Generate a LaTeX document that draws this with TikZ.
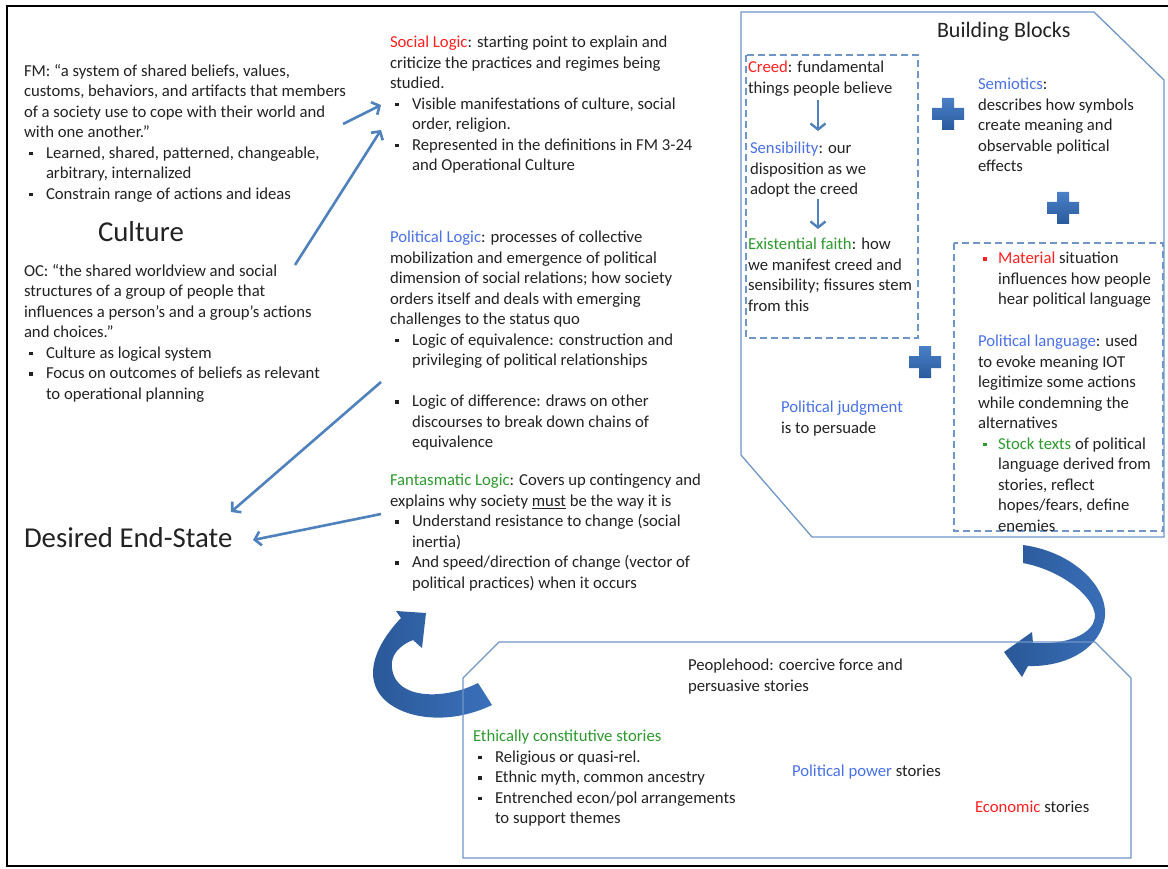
\documentclass[tikz,border=0pt]{standalone}
\usepackage{fontspec}
\setmainfont{Carlito}
\usetikzlibrary{arrows.meta}
\definecolor{txt}{HTML}{222222}
\definecolor{redl}{HTML}{FF2020}
\definecolor{bluel}{HTML}{4A72E6}
\definecolor{greenl}{HTML}{2E9A2E}
\definecolor{arrc}{HTML}{4F81BD}
\definecolor{boxc}{HTML}{7096C8}
\definecolor{plA}{HTML}{4A80C8}
\definecolor{plB}{HTML}{2A5A9C}
\definecolor{cvA}{HTML}{2A5898}
\definecolor{cvB}{HTML}{3A70BA}
\newlength\bw
\setlength\bw{22pt}
\newcommand\sqb{\rule[2.8pt]{3.6pt}{3.6pt}}
\newcommand\bul[1][txt]{\makebox[\bw][l]{\hspace*{5pt}\textcolor{#1}{\sqb}}}
\newcommand\ind{\hspace*{\bw}}
\tikzset{
  txtnode/.style={inner sep=0pt, outer sep=0pt, anchor=base west, align=left, text=txt, font=\fontsize{16.7}{20.5}\selectfont},
  mlnode/.style={txtnode, anchor=north west, yshift=10.85pt, execute at begin node=\strut},
  bbnode/.style={mlnode, font=\fontsize{16.7}{20.5}\selectfont\setlength\bw{20pt}},
  thinarr/.style={draw=arrc, line width=2.6pt, -{Straight Barb[length=6pt,width=14pt]}},
  smallarr/.style={draw=arrc, line width=2.4pt, -{Straight Barb[length=6pt,width=15pt]}},
  boxline/.style={draw=boxc, line width=1.3pt},
  dashbox/.style={draw=boxc, line width=1.3pt, dash pattern=on 7pt off 4pt},
  curvearr/.style={left color=cvA, right color=cvB},
  pluss/.pic={\shade[top color=plA, bottom color=plB] (-16,-6) -- (-6,-6) -- (-6,-16) -- (6,-16) -- (6,-6) -- (16,-6) -- (16,6) -- (6,6) -- (6,16) -- (-6,16) -- (-6,6) -- (-16,6) -- cycle;}
}
\begin{document}
\begin{tikzpicture}[x=1pt,y=-1pt]
\useasboundingbox (0,0) rectangle (1168,869);
\fill[white] (0,0) rectangle (1168,869);
% frame
\draw[line width=2.5pt, black] (1172,6) -- (7,6) -- (7,866) -- (1172,866);

% curved arrows
\shade[curvearr] (478,683) .. controls (445,700) and (395,700) .. (392,668)
  .. controls (390,655) and (400,645) .. (413,640) -- (422,648) -- (426,613) -- (396,611) -- (401,618)
  .. controls (380,640) and (368,665) .. (375,685) .. controls (385,715) and (440,730) .. (492,705) -- cycle;
\shade[curvearr] (1023,545) .. controls (1075,552) and (1112,590) .. (1104,622)
  .. controls (1097,650) and (1065,667) .. (1028,666) -- (1022,677) -- (1004,652) -- (1032,632) -- (1033,643)
  .. controls (1065,645) and (1095,635) .. (1095,615) .. controls (1093,595) and (1060,570) .. (1023,563) -- cycle;

% boxes
\draw[boxline] (741,12) -- (1094,12) -- (1164,80) -- (1164,537) -- (812,537) -- (741,455) -- cycle;
\draw[dashbox] (746,55) rectangle (918,338);
\draw[dashbox] (954,243) rectangle (1163,531);
\draw[boxline] (463,678) -- (499,642) -- (1095,642) -- (1131,678) -- (1131,858) -- (463,858) -- cycle;

% plus signs
\pic at (948,114) {pluss};
\pic at (1063,208) {pluss};
\pic at (925,362) {pluss};

% left column
\node[mlnode] (fm) at (24,75) {FM: “a system of shared beliefs, values,\\
customs, behaviors, and artifacts that members\\
of a society use to cope with their world and\\
with one another.”\\
\bul Learned, shared, patterned, changeable,\\
\ind arbitrary, internalized\\
\bul Constrain range of actions and ideas};
\node[txtnode, font=\fontsize{28.8}{30}\selectfont] (culture) at (98,242) {Culture};
\node[mlnode] (oc) at (24,275) {OC: “the shared worldview and social\\
structures of a group of people that\\
influences a person’s and a group’s actions\\
and choices.”\\
\bul Culture as logical system\\
\bul Focus on outcomes of beliefs as relevant\\
\ind to operational planning};
\node[txtnode, font=\fontsize{28.8}{30}\selectfont] (des) at (24,547) {Desired End-State};

% middle column
\node[mlnode] (soc) at (390,47) {\textcolor{redl}{Social Logic}: starting point to explain and\\
criticize the practices and regimes being\\
studied.\\
\bul Visible manifestations of culture, social\\
\ind order, religion.\\
\bul Represented in the definitions in FM 3-24\\
\ind and Operational Culture};
\node[mlnode] (pol) at (390,242) {\textcolor{bluel}{Political Logic}: processes of collective\\
mobilization and emergence of political\\
dimension of social relations; how society\\
orders itself and deals with emerging\\
challenges to the status quo\\
\bul Logic of equivalence: construction and\\
\ind privileging of political relationships\\[20.5pt]
\bul Logic of difference: draws on other\\
\ind discourses to break down chains of\\
\ind equivalence};
\node[mlnode] (fan) at (390,485) {\textcolor{greenl}{Fantasmatic Logic}: Covers up contingency and\\
explains why society \underline{must} be the way it is\\
\bul Understand resistance to change (social\\
\ind inertia)\\
\bul And speed/direction of change (vector of\\
\ind political practices) when it occurs};

% building blocks
\node[txtnode, font=\fontsize{22}{24}\selectfont] (bbt) at (937,38) {Building Blocks};
\node[bbnode] (creed) at (748,72) {\textcolor{redl}{Creed}: fundamental\\
things people believe};
\node[bbnode] (sens) at (750,153) {\textcolor{bluel}{Sensibility}: our\\
disposition as we\\
adopt the creed};
\node[bbnode] (exi) at (748,249) {\textcolor{greenl}{Existential faith}: how\\
we manifest creed and\\
sensibility; fissures stem\\
from this};
\node[bbnode] (semi) at (978,89) {\textcolor{bluel}{Semiotics}:\\
describes how symbols\\
create meaning and\\
observable political\\
effects};
\node[bbnode] (mat) at (978,263) {\bul[redl]\textcolor{redl}{Material} situation\\
\ind influences how people\\
\ind hear political language};
\node[bbnode] (plang) at (978,346) {\textcolor{bluel}{Political language}: used\\
to evoke meaning IOT\\
legitimize some actions\\
while condemning the\\
alternatives\\
\bul[greenl]\textcolor{greenl}{Stock texts} of political\\
\ind language derived from\\
\ind stories, reflect\\
\ind hopes/fears, define\\
\ind enemies};
\node[bbnode] (pj) at (781,412) {\textcolor{bluel}{Political judgment}\\
is to persuade};

% bottom box
\node[mlnode] (ppl) at (688,670) {Peoplehood: coercive force and\\
persuasive stories};
\node[mlnode] (eth) at (473,741) {\textcolor{greenl}{Ethically constitutive stories}\\
\bul Religious or quasi-rel.\\
\bul Ethnic myth, common ancestry\\
\bul Entrenched econ/pol arrangements\\
\ind to support themes};
\node[txtnode] (ppw) at (792,776) {\textcolor{bluel}{Political power} stories};
\node[txtnode] (eco) at (975,812) {\textcolor{redl}{Economic} stories};

% connectors
\coordinate (a1s) at (343,124);
\coordinate (a1e) at (381,105);
\coordinate (a2s) at (295,265);
\coordinate (a2e) at (381,130);
\coordinate (a3s) at (381,382);
\coordinate (a3e) at (231,512);
\coordinate (a4s) at (381,514);
\coordinate (a4e) at (253,540);
\draw[thinarr] (a1s) -- (a1e);
\draw[thinarr] (a2s) -- (a2e);
\draw[thinarr] (a3s) -- (a3e);
\draw[thinarr] (a4s) -- (a4e);
\coordinate (c1s) at (818,100);
\coordinate (c1e) at (818,131);
\coordinate (c2s) at (818,199);
\coordinate (c2e) at (818,229);
\draw[smallarr] (c1s) -- (c1e);
\draw[smallarr] (c2s) -- (c2e);
\end{tikzpicture}
\end{document}
